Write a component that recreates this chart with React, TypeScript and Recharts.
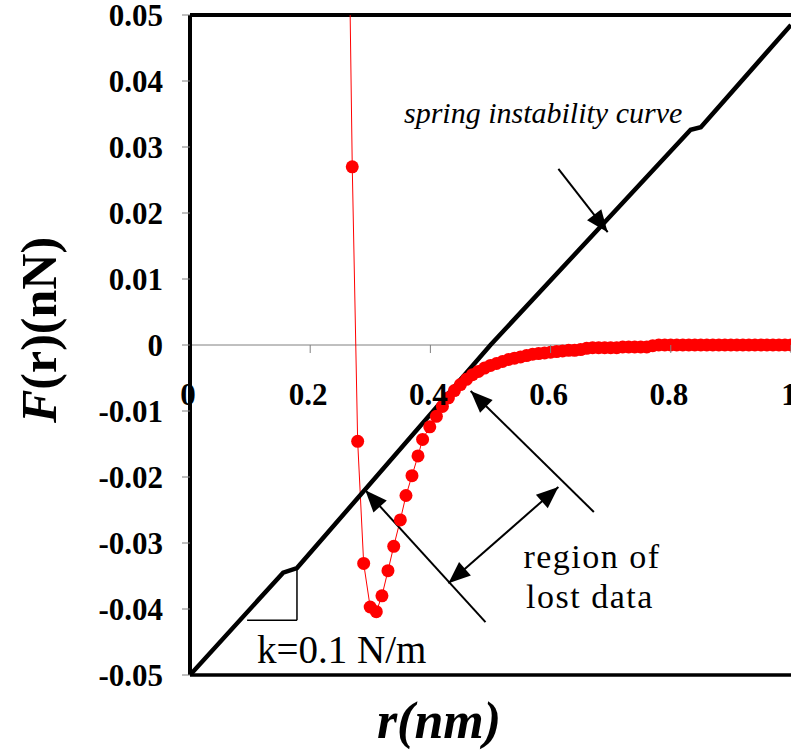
import React from 'react'
import { LineChart, Line, XAxis, YAxis, ReferenceLine } from 'recharts'

// separation r (nm) and force F (nN) of the measured points
const redR = [
  0.265, 0.27, 0.279, 0.289, 0.2998, 0.31, 0.3194, 0.3294, 0.339, 0.35, 0.3594, 0.3694, 0.3794, 0.387, 0.399, 0.41,
  0.42, 0.43, 0.44, 0.45, 0.46, 0.47, 0.48, 0.49, 0.5, 0.51, 0.52, 0.53, 0.54, 0.55, 0.56, 0.57, 0.58, 0.59, 0.6,
  0.61, 0.62, 0.63, 0.64, 0.65, 0.66, 0.67, 0.68, 0.69, 0.7, 0.71, 0.72, 0.73, 0.74, 0.75, 0.76, 0.77, 0.78, 0.79,
  0.8, 0.81, 0.82, 0.83, 0.84, 0.85, 0.86, 0.87, 0.88, 0.89, 0.9, 0.91, 0.92, 0.93, 0.94, 0.95, 0.96, 0.97, 0.98,
  0.99, 1.0,
]
const redF = [
  0.06, 0.027, -0.0146, -0.0331, -0.0397, -0.0404, -0.038, -0.0342, -0.0305, -0.0265, -0.0228, -0.0198, -0.0168,
  -0.0143, -0.0124, -0.0108,
  -0.0093, -0.008, -0.0069, -0.006, -0.0052, -0.0045, -0.004, -0.0035, -0.0031, -0.0028, -0.0025, -0.0022, -0.002,
  -0.0018, -0.0016, -0.0014, -0.0013, -0.0012, -0.0011, -0.001, -0.0009, -0.0008, -0.0008, -0.0007, -0.0005,
  -0.0004, -0.0004, -0.0004, -0.0004, -0.0004, -0.0003, -0.0003, -0.0003, -0.0003, -0.0003, -0.0001, 0, 0,
  0, 0, 0, 0, 0, 0, 0, 0, 0, 0, 0, 0, 0, 0, 0, 0, 0, 0, 0,
  0, 0,
]

// spring instability line
const springR = [0, 0.155, 0.178, 0.5, 0.833, 0.85, 1.0]
const springF = [-0.05, -0.0345, -0.0338, 0.0, 0.0326, 0.033, 0.0485]

const xTicks = [0, 0.2, 0.4, 0.6, 0.8, 1]
const yTicks = [-0.05, -0.04, -0.03, -0.02, -0.01, 0, 0.01, 0.02, 0.03, 0.04, 0.05]

const redData = redR.map((r, i) => ({ r, f: redF[i] }))
const springData = springR.map((r, i) => ({ r, f: springF[i] }))

const W = 791
const H = 753
const TOP = 15
const PLOT_H = 660
const ZERO_Y = TOP + PLOT_H / 2
// the original figure is cropped at the right: the plot runs past the page edge
const EXTRA = 20
const X_MAX = 1 + EXTRA / 600
const FONT = '"Liberation Serif", "Times New Roman", serif'

const XTick = (props: any) => {
  const { x, payload } = props
  const v = payload.value
  return (
    <g>
      {v !== 0 && <line x1={x} x2={x} y1={ZERO_Y} y2={ZERO_Y + 8} stroke="#808080" strokeWidth={1} />}
      <text x={x - 2} y={ZERO_Y + 60} textAnchor="middle" fontFamily={FONT} fontWeight="bold" fontSize={31} fill="#000">
        {v === 0 ? '0' : v === 1 ? '1' : v.toFixed(1)}
      </text>
    </g>
  )
}

const YTick = (props: any) => {
  const { x, y, payload } = props
  const v = payload.value
  return (
    <text x={x} y={y} dy="0.36em" textAnchor="end" fontFamily={FONT} fontWeight="bold" fontSize={31} fill="#000">
      {v === 0 ? '0' : v.toFixed(2)}
    </text>
  )
}

const head = (tx: number, ty: number, fx: number, fy: number) => {
  const dx = tx - fx
  const dy = ty - fy
  const len = Math.sqrt(dx * dx + dy * dy) || 1
  const ux = dx / len
  const uy = dy / len
  const L = 22
  const Wd = 9
  const bx = tx - ux * L
  const by = ty - uy * L
  return `${tx},${ty} ${bx - uy * Wd},${by + ux * Wd} ${bx + uy * Wd},${by - ux * Wd}`
}

const arrow = (both: boolean) => (props: any) => {
  const { x1, y1, x2, y2 } = props
  return (
    <g>
      <line x1={x1} y1={y1} x2={x2} y2={y2} stroke="#000" strokeWidth={2} />
      <polygon points={head(x2, y2, x1, y1)} fill="#000" />
      {both && <polygon points={head(x1, y1, x2, y2)} fill="#000" />}
    </g>
  )
}

export default function App() {
  return (
    <div style={{ position: 'absolute', left: 0, top: 0, width: W, height: H, background: '#fff', overflow: 'hidden' }}>
      <LineChart width={W + EXTRA} height={H} margin={{ top: TOP, right: 0, bottom: 0, left: 0 }}>
        <XAxis
          type="number"
          dataKey="r"
          domain={[0, X_MAX]}
          ticks={xTicks}
          allowDataOverflow
          height={H - TOP - PLOT_H}
          axisLine={{ stroke: '#000', strokeWidth: 3.5 }}
          tickLine={false}
          tick={<XTick />}
          interval={0}
        />
        <YAxis
          type="number"
          dataKey="f"
          domain={[-0.05, 0.05]}
          ticks={yTicks}
          allowDataOverflow
          width={190}
          axisLine={{ stroke: '#000', strokeWidth: 4 }}
          tickLine={{ stroke: '#808080', strokeWidth: 1 }}
          tickSize={8}
          tickMargin={19}
          tick={<YTick />}
          interval={0}
        />
        <ReferenceLine y={0.05} stroke="#000" strokeWidth={4} />
        <ReferenceLine y={0} stroke="#808080" strokeWidth={1} />

        {/* k triangle */}
        <ReferenceLine segment={[{ x: 0.178, y: -0.0338 }, { x: 0.178, y: -0.0417 }]} stroke="#000" strokeWidth={1.5} />
        <ReferenceLine segment={[{ x: 0.095, y: -0.0417 }, { x: 0.178, y: -0.0417 }]} stroke="#000" strokeWidth={1.5} />

        <Line
          data={redData}
          dataKey="f"
          type="linear"
          stroke="#ff0000"
          strokeWidth={1}
          dot={{ r: 6.5, fill: '#ff0000', stroke: 'none' }}
          isAnimationActive={false}
        />
        <Line
          data={springData}
          dataKey="f"
          type="linear"
          stroke="#000"
          strokeWidth={4.5}
          dot={false}
          isAnimationActive={false}
        />

        {/* arrows */}
        <ReferenceLine segment={[{ x: 0.613, y: 0.0267 }, { x: 0.695, y: 0.0171 }]} shape={arrow(false)} />
        <ReferenceLine segment={[{ x: 0.672, y: -0.0253 }, { x: 0.467, y: -0.00697 }]} shape={arrow(false)} />
        <ReferenceLine segment={[{ x: 0.43, y: -0.0361 }, { x: 0.613, y: -0.0215 }]} shape={arrow(true)} />
        <ReferenceLine segment={[{ x: 0.4917, y: -0.042 }, { x: 0.2917, y: -0.022 }]} shape={arrow(false)} />

        {/* axis titles and notes */}
        <text
          x={56}
          y={330}
          transform="rotate(-90, 56, 330)"
          textAnchor="middle"
          fontFamily={FONT}
          fontWeight="bold"
          fontSize={50}
          fill="#000"
        >
          <tspan fontStyle="italic">F</tspan>
          <tspan>(r)(nN)</tspan>
        </text>
        <text x={439} y={738} textAnchor="middle" fontFamily={FONT} fontWeight="bold" fontStyle="italic" fontSize={52} fill="#000">
          r(nm)
        </text>
        <text x={404} y={123} fontFamily={FONT} fontStyle="italic" fontSize={30} fill="#000">
          spring instability curve
        </text>
        <text x={592} y={568} textAnchor="middle" fontFamily={FONT} fontSize={34} letterSpacing={1.5} fill="#000">
          region of
        </text>
        <text x={590} y={608} textAnchor="middle" fontFamily={FONT} fontSize={34} letterSpacing={1.5} fill="#000">
          lost data
        </text>
        <text x={257} y={663} fontFamily={FONT} fontSize={39} fill="#000">
          k=0.1 N/m
        </text>
      </LineChart>
    </div>
  )
}
